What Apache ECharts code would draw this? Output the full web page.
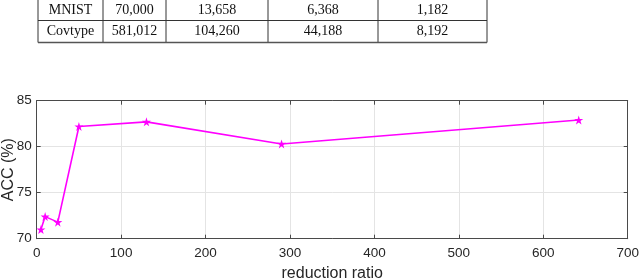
<!DOCTYPE html>
<html><head><meta charset="utf-8">
<script src="https://cdn.jsdelivr.net/npm/echarts@6/dist/echarts.min.js"></script>
<style>html,body{margin:0;padding:0;background:#fff}#c{width:640px;height:280px}</style>
</head><body><div id="c"></div>
<script>
// Table data
var tableRows = [
  ["MNIST", "70,000", "13,658", "6,368", "1,182"],
  ["Covtype", "581,012", "104,260", "44,188", "8,192"]
];
// Chart data
var reductionRatio = [5, 10, 25, 50, 130, 290, 642];
var accValues = [71.0, 72.4, 71.8, 82.2, 82.7, 80.3, 82.9];
var xTicks = [0, 100, 200, 300, 400, 500, 600, 700];
var yTicks = [70, 75, 80, 85];

var colX = [38, 103, 166, 268, 378, 487];
var rowY = [-2, 20.5, 42.5];

var graphics = [];
var lc = '#333';
colX.forEach(function (x) {
  graphics.push({type: 'line', shape: {x1: x, y1: rowY[0], x2: x, y2: rowY[2]}, style: {stroke: lc, lineWidth: 1}});
});
graphics.push({type: 'line', shape: {x1: colX[0], y1: rowY[1], x2: colX[5], y2: rowY[1]}, style: {stroke: lc, lineWidth: 1}});
graphics.push({type: 'line', shape: {x1: colX[0], y1: rowY[2], x2: colX[5], y2: rowY[2]}, style: {stroke: '#555', lineWidth: 1.6}});
tableRows.forEach(function (row, r) {
  row.forEach(function (t, c) {
    graphics.push({
      type: 'text',
      x: (colX[c] + colX[c + 1]) / 2,
      y: r === 0 ? 10 : 31.5,
      style: {text: t, font: '14px "Liberation Serif", serif', fill: '#111', align: 'center', verticalAlign: 'middle'}
    });
  });
});

var chart = echarts.init(document.getElementById('c'));
var starPath = 'path://M50,0 L61.8,36.2 L100,36.2 L69.1,58.8 L80.9,95.1 L50,72.7 L19.1,95.1 L30.9,58.8 L0,36.2 L38.2,36.2 Z';
var axisCol = '#4a4a4a';
var labelFont = {fontFamily: '"Liberation Sans", Arial, sans-serif', color: '#262626'};
chart.setOption({
  animation: false,
  graphic: graphics,
  grid: {left: 36.7, right: 12.3, top: 100.7, bottom: 41.3, show: false, containLabel: false, outerBoundsMode: 'none'},
  xAxis: [{
    type: 'value', min: 0, max: 700, interval: 100,
    name: 'reduction ratio', nameLocation: 'middle', nameGap: 27, nameMoveOverlap: false,
    nameTextStyle: Object.assign({fontSize: 16}, labelFont),
    axisLine: {show: true, onZero: false, lineStyle: {color: axisCol, width: 1}},
    axisTick: {show: true, inside: true, length: 4, lineStyle: {color: axisCol}},
    axisLabel: Object.assign({fontSize: 13.5, margin: 8}, labelFont),
    splitLine: {show: true, lineStyle: {color: '#e4e4e4', width: 1}}
  }, {
    type: 'value', min: 0, max: 700, interval: 100, position: 'top',
    axisLine: {show: true, onZero: false, lineStyle: {color: axisCol, width: 1}},
    axisTick: {show: true, inside: true, length: 4, lineStyle: {color: axisCol}},
    axisLabel: {show: false}, splitLine: {show: false}
  }],
  yAxis: [{
    type: 'value', min: 70, max: 85, interval: 5,
    name: 'ACC (%)', nameLocation: 'middle', nameGap: 20, nameMoveOverlap: false,
    nameTextStyle: Object.assign({fontSize: 16}, labelFont),
    axisLine: {show: true, onZero: false, lineStyle: {color: axisCol, width: 1}},
    axisTick: {show: true, inside: true, length: 4, lineStyle: {color: axisCol}},
    axisLabel: Object.assign({fontSize: 13.5, margin: 5}, labelFont),
    splitLine: {show: true, lineStyle: {color: '#e4e4e4', width: 1}}
  }, {
    type: 'value', min: 70, max: 85, interval: 5, position: 'right',
    axisLine: {show: true, onZero: false, lineStyle: {color: axisCol, width: 1}},
    axisTick: {show: true, inside: true, length: 4, lineStyle: {color: axisCol}},
    axisLabel: {show: false}, splitLine: {show: false}
  }],
  series: [{
    type: 'line',
    xAxisIndex: 0, yAxisIndex: 0,
    data: reductionRatio.map(function (x, i) { return [x, accValues[i]]; }),
    symbol: starPath, symbolSize: 9,
    lineStyle: {color: '#ff00ff', width: 1.6},
    itemStyle: {color: '#ff00ff'}
  }]
});
</script></body></html>
